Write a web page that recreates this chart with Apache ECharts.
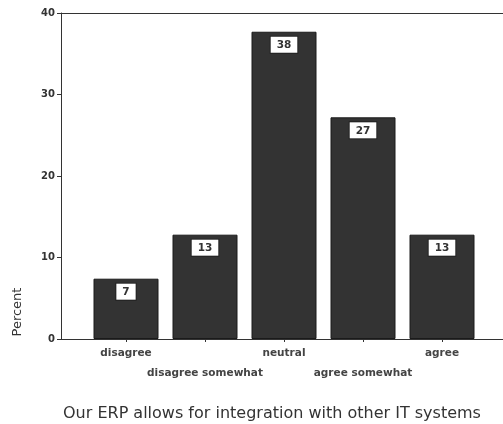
<!DOCTYPE html>
<html>
<head>
<meta charset="utf-8">
<script src="https://cdn.jsdelivr.net/npm/echarts@6/dist/echarts.min.js"></script>
<style>html,body{margin:0;padding:0;background:#fff}#c{width:503px;height:424px}</style>
</head>
<body>
<div id="c"></div>
<script>
var categories = ['disagree', 'disagree somewhat', 'neutral', 'agree somewhat', 'agree'];
var percentValues = [7.4, 12.8, 37.7, 27.2, 12.8];
var yTicks = [0, 10, 20, 30, 40];
var yAxisTitle = 'Percent';

var chart = echarts.init(document.getElementById('c'), null, {renderer: 'canvas'});
var FONT = 'DejaVu Sans';
var frameAxis = function (pos) {
  return {gridIndex: 0, type: 'value', position: pos, min: 0, max: 1,
    axisLine: {show: true, onZero: false, lineStyle: {color: '#333', width: 1}},
    axisTick: {show: false}, axisLabel: {show: false}, splitLine: {show: false}};
};
chart.setOption({
  animation: false,
  backgroundColor: '#fff',
  title: {
    text: 'Our ERP allows for integration with other IT systems',
    left: 58, top: 401,
    textStyle: {fontFamily: FONT, fontSize: 16, fontWeight: 'normal', color: '#333'}
  },
  graphic: [{
    type: 'text', x: 18, y: 312, rotation: Math.PI / 2,
    style: {text: yAxisTitle, font: '13px "DejaVu Sans"', fill: '#333', textAlign: 'center', textVerticalAlign: 'middle'}
  }],
  grid: [
    {left: 61, top: 13, right: 0, bottom: 85, show: false},
    {left: 86.5, top: 13, width: 395, bottom: 85}
  ],
  xAxis: [
    frameAxis('bottom'),
    frameAxis('top'),
    {
      gridIndex: 1, type: 'category', data: categories,
      axisLine: {show: false},
      axisTick: {show: true, alignWithLabel: true, length: 3, lineStyle: {color: '#333'}},
      axisLabel: {
        interval: 0, margin: 4, fontFamily: FONT, fontSize: 10.5, fontWeight: 'bold', color: '#444', lineHeight: 20,
        formatter: function (v, i) { return (i % 2 === 1 ? '\n' : '') + v; }
      }
    }
  ],
  yAxis: [
    {
      gridIndex: 0, type: 'value', min: yTicks[0], max: yTicks[yTicks.length - 1], interval: 10,
      axisLine: {show: true, lineStyle: {color: '#333'}},
      axisTick: {show: true, length: 4, lineStyle: {color: '#333'}},
      axisLabel: {margin: 6, fontFamily: FONT, fontSize: 10, fontWeight: 'bold', color: '#333'},
      splitLine: {show: false}
    },
    {gridIndex: 1, type: 'value', min: 0, max: 40, show: false}
  ],
  series: [{
    type: 'bar', xAxisIndex: 2, yAxisIndex: 1, data: percentValues,
    barWidth: 65,
    itemStyle: {color: '#333', borderColor: '#1a1a1a', borderWidth: 1},
    label: {
      show: true, position: 'insideTop', distance: 5,
      formatter: function (p) { return Math.round(p.value); },
      backgroundColor: '#fff', borderColor: '#222', borderWidth: 1, padding: [3, 6, 2, 6],
      fontFamily: FONT, fontSize: 10.5, fontWeight: 'bold', color: '#333'
    }
  }]
});
</script>
</body>
</html>
